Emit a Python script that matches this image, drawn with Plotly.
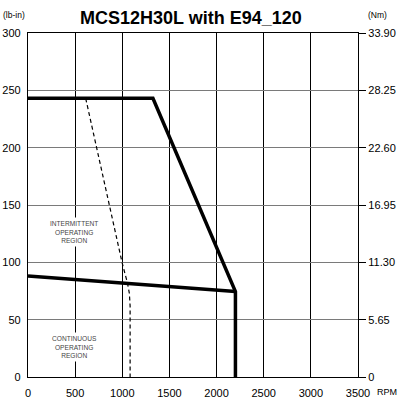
import plotly.graph_objects as go

# Data
interm_rpm = [0, 1325, 2200, 2200]
interm_torque = [243, 243, 74.5, 0]

cont_rpm = [0, 2200]
cont_torque = [88, 74.5]

dash_rpm = [612, 1000, 1055, 1075, 1083, 1083]
dash_torque = [243, 99, 82, 73, 62, 0]

x_ticks = [0, 500, 1000, 1500, 2000, 2500, 3000, 3500]
y_ticks = [0, 50, 100, 150, 200, 250, 300]
nm_ticks = [0, 5.65, 11.30, 16.95, 22.60, 28.25, 33.90]
nm_labels = ["0", "5.65", "11.30", "16.95", "22.60", "28.25", "33.90"]

FONT = "Liberation Sans, Arial, sans-serif"

fig = go.Figure()
fig.add_trace(go.Scatter(x=dash_rpm, y=dash_torque, mode="lines",
                         line=dict(color="black", width=1.2, dash="4px,3px"),
                         showlegend=False, hoverinfo="skip"))
fig.add_trace(go.Scatter(x=cont_rpm, y=cont_torque, mode="lines",
                         line=dict(color="black", width=3.5),
                         showlegend=False, hoverinfo="skip"))
fig.add_trace(go.Scatter(x=interm_rpm, y=interm_torque, mode="lines",
                         line=dict(color="black", width=3.5),
                         showlegend=False, hoverinfo="skip"))
# dummy trace for right axis
fig.add_trace(go.Scatter(x=[0], y=[0], yaxis="y2", mode="markers",
                         marker=dict(opacity=0), showlegend=False, hoverinfo="skip"))

fig.update_layout(
    width=401, height=399,
    margin=dict(l=28, r=43, t=33, b=22),
    paper_bgcolor="white", plot_bgcolor="white",
    font=dict(family=FONT, color="black", size=11),
    xaxis=dict(range=[0, 3500], tickvals=x_ticks, ticks="", showgrid=True,
               gridcolor="black", gridwidth=1, showline=True, linecolor="black",
               linewidth=1.2, mirror=True, zeroline=False, automargin=False,
               tickfont=dict(size=11), ticklabelstandoff=6),
    yaxis=dict(range=[0, 300], tickvals=y_ticks, ticks="", showgrid=True,
               gridcolor="#7a7a7a", gridwidth=1, showline=True, linecolor="black",
               linewidth=1.2, zeroline=False, tickfont=dict(size=11),
               automargin=False, ticklabelstandoff=4),
    yaxis2=dict(range=[0, 33.9], overlaying="y", side="right",
                tickvals=nm_ticks, ticktext=nm_labels, ticks="outside",
                ticklen=7, tickcolor="black", showgrid=False, showline=True,
                linecolor="black", linewidth=1.2, zeroline=False, automargin=False,
                tickfont=dict(size=11), ticklabelstandoff=0),
)

fig.add_annotation(text="<b>MCS12H30L with E94_120</b>", xref="paper", yref="paper",
                   x=0.5, y=1, xshift=-2, yshift=15, xanchor="center", yanchor="middle",
                   showarrow=False, font=dict(size=18, family=FONT))
fig.add_annotation(text="(lb-in)", xref="paper", yref="paper", x=0, y=1,
                   xshift=-27, yshift=18, xanchor="left", yanchor="middle",
                   showarrow=False, font=dict(size=8.5, family=FONT))
fig.add_annotation(text="(Nm)", xref="paper", yref="paper", x=1, y=1,
                   xshift=8, yshift=18, xanchor="left", yanchor="middle",
                   showarrow=False, font=dict(size=8.5, family=FONT))
fig.add_annotation(text="RPM", xref="paper", yref="paper", x=1, y=0,
                   xshift=17, yshift=-15, xanchor="left", yanchor="middle",
                   showarrow=False, font=dict(size=9, family=FONT))
fig.add_annotation(text="INTERMITTENT<br>OPERATING<br>REGION", x=490, y=126.5,
                   showarrow=False, bgcolor="white", borderpad=2,
                   font=dict(size=6.6, family=FONT, color="#444"))
fig.add_annotation(text="CONTINUOUS<br>OPERATING<br>REGION", x=490, y=26,
                   showarrow=False, bgcolor="white", borderpad=2,
                   font=dict(size=6.6, family=FONT, color="#444"))

fig.write_html("out.html", post_script="document.body.style.margin='0';",
               config={"displayModeBar": False})
